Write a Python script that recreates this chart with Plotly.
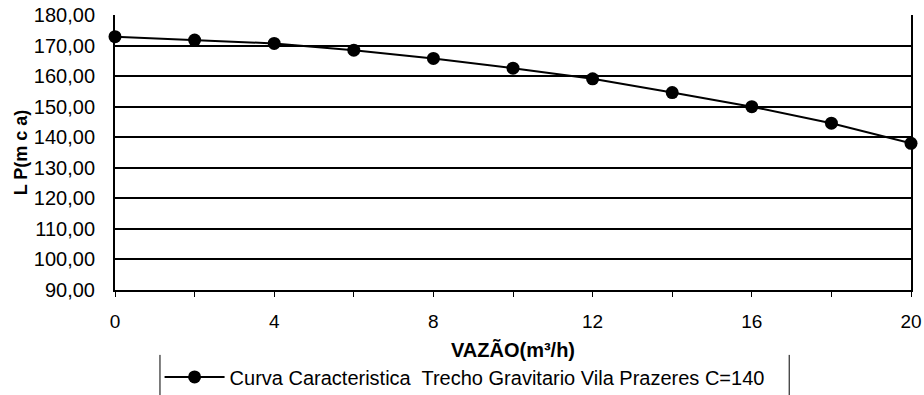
import plotly.graph_objects as go

vazao = [0, 2, 4, 6, 8, 10, 12, 14, 16, 18, 20]
lp = [172.9, 171.8, 170.7, 168.5, 165.8, 162.6, 159.1, 154.6, 150.0, 144.6, 138.0]
series_name = "Curva Caracteristica  Trecho Gravitario Vila Prazeres C=140"
x_title = "VAZÃO(m³/h)"
y_title = "L P(m c a)"

FONT = "Arial, Liberation Sans, sans-serif"

fig = go.Figure()
fig.add_trace(go.Scatter(
    x=vazao, y=lp, mode="lines+markers", name=series_name,
    line=dict(color="black", width=2),
    marker=dict(color="black", size=13),
    cliponaxis=False, showlegend=True,
))

fig.update_layout(
    width=924, height=395,
    margin=dict(l=115, r=13, t=15, b=105, autoexpand=False),
    paper_bgcolor="white", plot_bgcolor="white",
    separators=",.",
    font=dict(family=FONT, color="black", size=16),
    showlegend=True,
    legend=dict(
        orientation="h", x=0.056, xanchor="left",
        y=-0.316, yanchor="middle",
        font=dict(size=20, family=FONT), itemwidth=60,
        bgcolor="rgba(0,0,0,0)", borderwidth=0,
    ),
)

fig.update_xaxes(
    range=[0, 20], tickmode="linear", tick0=0, dtick=4,
    ticks="outside", ticklen=5, tickcolor="black", tickwidth=1,
    minor=dict(dtick=2, ticks="outside", ticklen=5, tickcolor="black", tickwidth=1),
    showgrid=False, showline=True, linecolor="black", linewidth=2, mirror=False,
    tickfont=dict(size=19), zeroline=False, ticklabelstandoff=8,
    title=dict(text="<b>" + x_title + "</b>", font=dict(size=20), standoff=12),
)
fig.update_yaxes(
    range=[90, 180], tickmode="linear", tick0=90, dtick=10, tickformat=".2f",
    showgrid=True, gridcolor="black", gridwidth=1.5,
    showline=True, linecolor="black", linewidth=2, mirror=True,
    ticks="", tickfont=dict(size=20), zeroline=False, ticklabelstandoff=14,
    title=dict(text="<b>" + y_title + "</b>", font=dict(size=18), standoff=2),
)

# legend frame (left and right sides)
fig.add_shape(type="line", xref="paper", yref="paper", x0=0.0565, x1=0.0565, y0=-0.236, y1=-0.382,
              line=dict(color="black", width=1))
fig.add_shape(type="line", xref="paper", yref="paper", x0=0.847, x1=0.847, y0=-0.236, y1=-0.382,
              line=dict(color="black", width=1))

fig.write_html("out.html")
